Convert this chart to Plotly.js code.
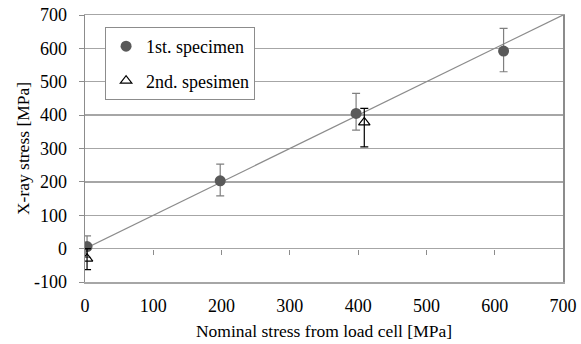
<!DOCTYPE html>
<html><head><meta charset="utf-8">
<script src="https://cdn.plot.ly/plotly-3.0.1.min.js"></script>
<style>html,body{margin:0;padding:0;background:#fff}#c{width:581px;height:344px}</style>
</head><body><div id="c"></div>
<script>
const s1x = [3, 198, 397, 613];
const s1y = [6, 203, 405, 592];
const s1errPlus = [32, 50, 60, 68];
const s1errMinus = [32, 45, 50, 62];
const s2x = [3, 409];
const s2y = [-30, 378];
const s2errPlus = [30, 42];
const s2errMinus = [33, 73];
const refX = [0, 700];
const refY = [0, 700];
const xTicks = [0, 100, 200, 300, 400, 500, 600, 700];
const yTicks = [-100, 0, 100, 200, 300, 400, 500, 600, 700];

const fam = 'Liberation Serif, Times New Roman, serif';
const tickFont = {family: fam, size: 18, color: '#000'};
const titleFont = {family: fam, size: 17.5, color: '#000'};
const traces = [
  {x: refX, y: refY, mode: 'lines', line: {color: '#8c8c8c', width: 1.2}, showlegend: false, hoverinfo: 'skip'},
  {x: s1x, y: s1y, mode: 'markers', name: '1st. specimen', legendgroup: 'a',
   marker: {symbol: 'circle', size: 11, color: '#595959'},
   error_y: {type: 'data', symmetric: false, array: s1errPlus, arrayminus: s1errMinus, color: '#7f7f7f', thickness: 1.2, width: 4}},
  {x: s2x, y: s2y, mode: 'markers', name: '2nd. spesimen', legendgroup: 'b',
   marker: {symbol: 'triangle-up-open', size: 10, color: '#000', line: {width: 1.2}},
   error_y: {type: 'data', symmetric: false, array: s2errPlus, arrayminus: s2errMinus, color: '#000', thickness: 1.2, width: 4}},
  {x: [0], y: [0], xaxis: 'x2', mode: 'markers', marker: {opacity: 0}, showlegend: false, hoverinfo: 'skip'}
];
const layout = {
  width: 581, height: 344,
  margin: {l: 85, r: 18, t: 15, b: 62},
  paper_bgcolor: '#fff', plot_bgcolor: '#fff',
  font: tickFont,
  showlegend: true,
  legend: {x: 0.042, y: 0.955, xanchor: 'left', yanchor: 'top', bordercolor: '#8c8c8c', borderwidth: 1,
           bgcolor: '#fff', font: {family: fam, size: 18}, itemwidth: 30,
           traceorder: 'grouped', tracegroupgap: 8},
  xaxis: {range: [0, 700], tickvals: xTicks, ticktext: xTicks.map(String), showgrid: false, zeroline: false,
          showline: true, mirror: true, linecolor: '#a6a6a6', linewidth: 1.5, ticks: '', ticklabelstandoff: 7,
          title: {text: 'Nominal stress from load cell [MPa]', font: titleFont, standoff: 9}, tickfont: tickFont, fixedrange: true},
  xaxis2: {range: [0, 700], overlaying: 'x', anchor: 'free', position: 0.125, tickvals: xTicks, showticklabels: false,
           ticks: 'outside', ticklen: 5, tickcolor: '#8c8c8c', tickwidth: 1, showgrid: false, zeroline: false, showline: false},
  yaxis: {range: [-100, 700], tickvals: yTicks, ticktext: yTicks.map(String), showgrid: true, gridcolor: '#a6a6a6', gridwidth: 1.3,
          zeroline: false, showline: true, mirror: true, linecolor: '#8c8c8c', linewidth: 1.5,
          ticks: 'outside', ticklen: 5, tickcolor: '#8c8c8c', tickfont: tickFont, ticklabelstandoff: 8,
          title: {text: 'X-ray stress [MPa]', font: titleFont, standoff: 0}, fixedrange: true}
};
Plotly.newPlot('c', traces, layout, {displayModeBar: false, staticPlot: true});
</script></body></html>
